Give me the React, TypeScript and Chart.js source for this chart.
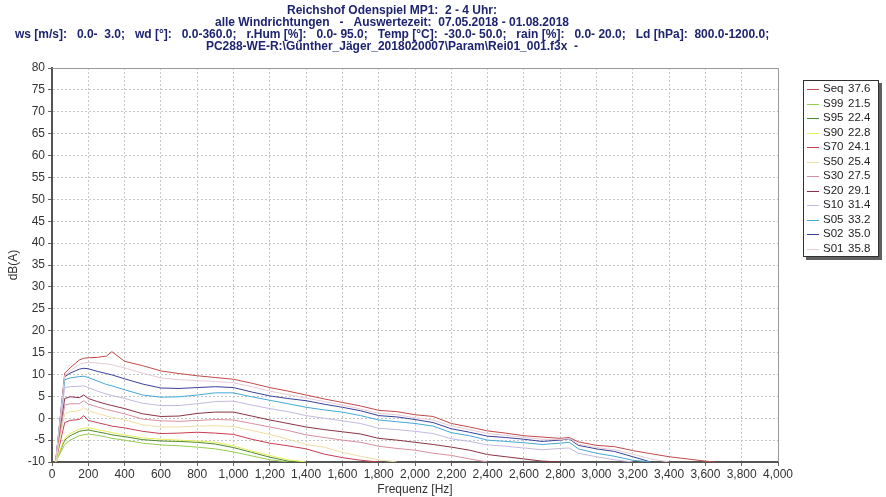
import { useEffect, useRef } from 'react';
import { Chart, registerables } from 'chart.js';

Chart.register(...registerables);

const TITLE_LINES = [
  'Reichshof Odenspiel MP1:  2 - 4 Uhr:',
  'alle Windrichtungen   -   Auswertezeit:  07.05.2018 - 01.08.2018',
  'ws [m/s]:   0.0-  3.0;   wd [°]:   0.0-360.0;   r.Hum [%]:   0.0- 95.0;   Temp [°C]:  -30.0- 50.0;   rain [%]:   0.0- 20.0;   Ld [hPa]:  800.0-1200.0;',
  'PC288-WE-R:\\Günther_Jäger_2018020007\\Param\\Rei01_001.f3x  -',
];

const X_TITLE = 'Frequenz [Hz]';
const Y_TITLE = 'dB(A)';

const FREQ_HZ = [
  20, 70, 100, 150, 175, 200, 250, 300, 330, 400, 500, 600, 700, 800, 900, 1000,
  1100, 1200, 1300, 1400, 1500, 1600, 1700, 1800, 1900, 2000, 2100, 2200, 2300,
  2400, 2500, 2600, 2700, 2800, 2850, 2900, 3000, 3100, 3200, 3300, 3400, 3500,
  3600, 3650,
];

const SEQ = [-10, 10.3, 11.5, 13.3, 13.7, 13.8, 13.9, 14.2, 15.2, 13.0, 12.0, 10.8, 10.2, 9.7, 9.3, 8.9, 8.0, 7.0, 6.2, 5.3, 4.4, 3.6, 2.8, 1.8, 1.5, 0.8, 0.4, -1.2, -2.0, -2.9, -3.4, -4.0, -4.3, -4.6, -4.4, -5.4, -6.2, -6.5, -7.4, -8.1, -8.8, -9.3, -9.8, -10];
const S01 = [-10, 9.8, 10.8, 12.3, 12.6, 12.8, 12.6, 12.4, 12.2, 11.5, 10.3, 9.2, 8.8, 8.6, 8.4, 8.1, 7.2, 6.2, 5.4, 4.6, 3.8, 3.0, 2.1, 1.1, 0.8, 0.1, -0.4, -1.8, -2.6, -3.5, -3.9, -4.4, -4.8, -4.9, -4.6, -5.9, -6.7, -7.2, -8.2, -9.3, -10];
const S02 = [-10, 9.5, 10.3, 11.2, 11.4, 11.3, 10.7, 10.2, 9.9, 9.0, 7.8, 6.9, 6.8, 7.0, 7.2, 7.0, 6.0, 5.1, 4.5, 4.0, 3.2, 2.5, 1.7, 0.6, 0.3, -0.3, -1.0, -2.4, -3.2, -4.1, -4.4, -4.8, -5.3, -5.0, -4.7, -6.2, -7.0, -7.6, -8.8, -10];
const S05 = [-10, 8.8, 9.2, 9.5, 9.6, 9.3, 8.5, 7.7, 7.4, 6.5, 5.3, 4.8, 4.9, 5.3, 5.8, 5.8, 4.9, 4.1, 3.3, 2.5, 1.9, 1.4, 0.6, -0.4, -0.8, -1.2, -1.8, -3.3, -4.0, -5.0, -5.3, -5.6, -6.0, -5.7, -5.5, -7.0, -8.0, -8.7, -9.6, -10];
const S10 = [-10, 7.0, 7.2, 7.3, 7.4, 7.0, 6.2, 5.5, 5.2, 4.5, 3.4, 2.9, 2.9, 3.3, 3.8, 3.9, 3.0, 2.2, 1.5, 0.6, 0.0, -0.6, -1.2, -2.3, -2.6, -3.0, -3.5, -4.7, -5.3, -6.1, -6.4, -6.8, -7.2, -6.9, -6.8, -8.0, -8.8, -9.5, -10];
const S20 = [-10, 4.5, 4.9, 4.7, 5.3, 4.5, 3.8, 3.2, 2.9, 2.2, 1.0, 0.4, 0.5, 1.1, 1.4, 1.4, 0.5, -0.4, -1.2, -2.0, -2.6, -3.1, -3.6, -4.6, -5.0, -5.5, -6.0, -6.6, -7.3, -8.3, -8.8, -9.3, -9.8, -10];
const S30 = [-10, 3.0, 3.3, 3.3, 4.0, 3.2, 2.6, 2.0, 1.7, 1.0, -0.2, -0.6, -0.7, -0.5, -0.3, -0.4, -1.2, -2.0, -2.8, -3.8, -4.4, -5.0, -5.5, -6.4, -6.9, -7.3, -8.0, -8.5, -9.3, -10];
const S50 = [-10, 1.0, 1.5, 1.7, 2.4, 1.7, 1.1, 0.5, 0.2, -0.4, -1.5, -2.0, -2.0, -1.8, -1.7, -1.9, -2.8, -3.7, -4.8, -6.0, -6.6, -7.8, -8.7, -9.5, -10];
const S70 = [-10, -1.0, -0.5, -0.3, 0.6, -0.5, -1.0, -1.5, -1.8, -2.2, -3.0, -3.5, -3.4, -3.2, -3.4, -3.7, -4.8, -5.7, -6.3, -7.0, -8.2, -9.0, -9.6, -10];
const S90 = [-10, -4.5, -3.5, -2.5, -2.3, -2.2, -2.6, -3.0, -3.3, -3.8, -4.5, -4.8, -5.0, -5.2, -5.5, -6.3, -7.5, -8.5, -9.5, -10];
const S95 = [-10, -5.0, -4.0, -3.0, -2.8, -2.7, -3.1, -3.5, -3.8, -4.2, -4.9, -5.2, -5.3, -5.5, -5.9, -6.7, -7.8, -8.9, -9.8, -10];
const S99 = [-10, -6.0, -5.0, -4.0, -3.8, -3.6, -3.9, -4.3, -4.6, -5.0, -5.7, -6.1, -6.3, -6.6, -7.0, -7.7, -8.6, -9.5, -10];

const LEGEND_NAMES = ['Seq', 'S99', 'S95', 'S90', 'S70', 'S50', 'S30', 'S20', 'S10', 'S05', 'S02', 'S01'];
const LEGEND_VALUES = ['37.6', '21.5', '22.4', '22.8', '24.1', '25.4', '27.5', '29.1', '31.4', '33.2', '35.0', '35.8'];
const SERIES_VALUES = [SEQ, S99, S95, S90, S70, S50, S30, S20, S10, S05, S02, S01];
const SERIES_COLORS = ['#c24a4a', '#96cc50', '#4a8a2a', '#e6ee5a', '#c83c52', '#eedfa6', '#d88e9e', '#8a3242', '#c6b8e0', '#44a8d6', '#38409a', '#e4ccd6'];
const DRAW_ORDER = [11, 5, 3, 1, 2, 4, 6, 7, 8, 9, 10, 0];

const Y_MIN = -10;
const Y_MAX = 80;
const Y_STEP = 5;
const X_MIN = 0;
const X_MAX = 4000;
const X_STEP = 200;

const FONT = '"Liberation Sans", Arial, sans-serif';

const framePlugin = {
  id: 'frame',
  afterDraw(chart: any) {
    const { ctx, chartArea } = chart;
    const { left, right, top, bottom } = chartArea;
    ctx.save();
    ctx.strokeStyle = '#9a9a9a';
    ctx.lineWidth = 1;
    ctx.beginPath();
    ctx.moveTo(left, top + 0.5);
    ctx.lineTo(right + 0.5, top + 0.5);
    ctx.lineTo(right + 0.5, bottom);
    ctx.stroke();

    // legend
    const bx = 803, by = 80, bw = 76, bh = 177;
    ctx.fillStyle = '#606060';
    ctx.fillRect(bx + 3, by + 3, bw, bh);
    ctx.fillStyle = '#ffffff';
    ctx.fillRect(bx, by, bw, bh);
    ctx.strokeStyle = '#303030';
    ctx.strokeRect(bx + 0.5, by + 0.5, bw - 1, bh - 1);
    ctx.font = '11.5px ' + FONT;
    ctx.textBaseline = 'middle';
    ctx.textAlign = 'left';
    LEGEND_NAMES.forEach((name, i) => {
      const y = by + 9 + i * 14.5;
      ctx.strokeStyle = SERIES_COLORS[i];
      ctx.lineWidth = 1;
      ctx.beginPath();
      ctx.moveTo(807, Math.round(y) + 0.5);
      ctx.lineTo(819, Math.round(y) + 0.5);
      ctx.stroke();
      ctx.fillStyle = '#222222';
      ctx.fillText(name, 823, y);
      ctx.fillText(LEGEND_VALUES[i], 848, y);
    });
    ctx.restore();
  },
};

export default function App() {
  const ref = useRef<HTMLCanvasElement | null>(null);
  useEffect(() => {
    document.body.style.margin = '0';
    const canvas = ref.current;
    if (!canvas) return;
    const datasets = DRAW_ORDER.map((i) => ({
      label: LEGEND_NAMES[i],
      data: SERIES_VALUES[i].map((v, k) => ({ x: FREQ_HZ[k], y: v })),
      borderColor: SERIES_COLORS[i],
      backgroundColor: SERIES_COLORS[i],
      borderWidth: 1,
      pointRadius: 0,
      tension: 0,
      fill: false,
    }));
    const chart = new Chart(canvas, {
      type: 'line',
      data: { datasets },
      plugins: [framePlugin],
      options: {
        animation: false,
        responsive: false,
        devicePixelRatio: 1,
        layout: { padding: { left: 6, right: 108, top: 0, bottom: 0 } },
        plugins: {
          legend: { display: false },
          tooltip: { enabled: false },
          title: {
            display: true,
            text: TITLE_LINES,
            color: '#1e2470',
            font: { family: '"Liberation Sans Narrow", "Arial Narrow", ' + FONT, size: 12, weight: 'bold', lineHeight: 1.0 },
            padding: { top: 5, bottom: 15 },
          },
        },
        scales: {
          x: {
            type: 'linear',
            min: X_MIN,
            max: X_MAX,
            afterFit: (s: any) => { s.height = 35; },
            ticks: {
              stepSize: X_STEP,
              autoSkip: false,
              maxRotation: 0,
              padding: 1,
              color: '#333333',
              font: { family: FONT, size: 12 },
              callback: (v: any) => Number(v).toLocaleString('en-US'),
            },
            grid: { color: '#c6c6c6', tickLength: 4, tickColor: '#666666', lineWidth: 1 },
            border: { display: true, color: '#555555', width: 2, dash: [2, 2] },
            title: { display: true, text: X_TITLE, color: '#333333', font: { family: FONT, size: 12 }, padding: { top: 0, bottom: 0 } },
          },
          y: {
            type: 'linear',
            min: Y_MIN,
            max: Y_MAX,
            afterFit: (s: any) => { s.width = 46; },
            ticks: {
              stepSize: Y_STEP,
              padding: 3,
              color: '#333333',
              font: { family: FONT, size: 12 },
            },
            grid: { color: '#c6c6c6', tickLength: 4, tickColor: '#666666', lineWidth: 1 },
            border: { display: true, color: '#555555', width: 2, dash: [2, 2] },
            title: { display: true, text: Y_TITLE, color: '#333333', font: { family: FONT, size: 12 }, padding: 0 },
          },
        },
      },
    });
    return () => chart.destroy();
  }, []);
  return (
    <div style={{ width: 886, height: 497, background: '#ffffff' }}>
      <canvas ref={ref} width={886} height={497} style={{ display: 'block' }} />
    </div>
  );
}
